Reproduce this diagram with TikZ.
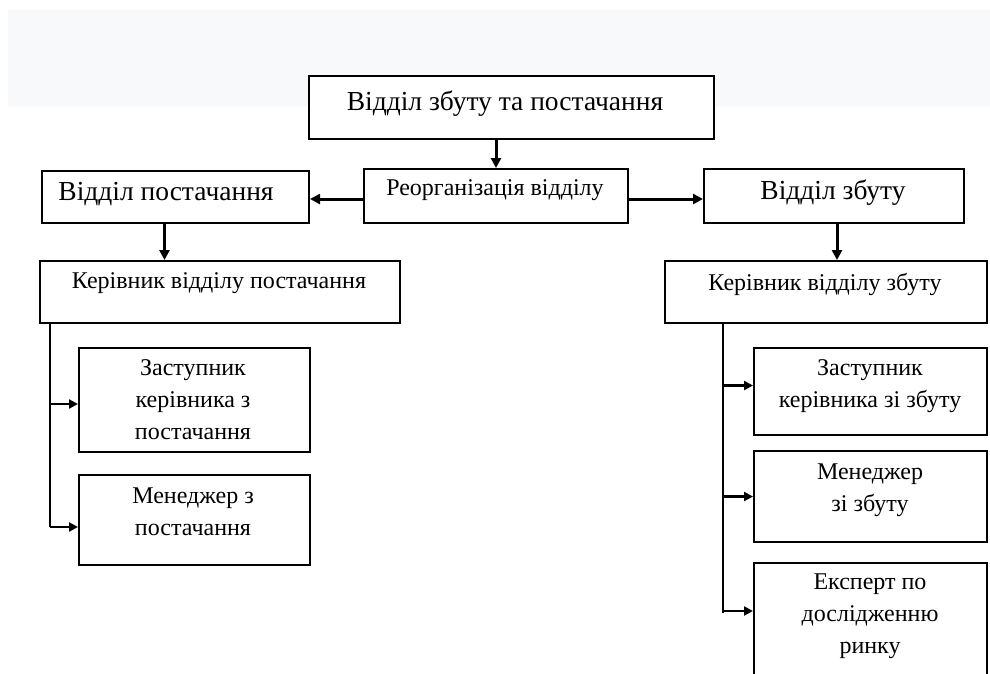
\documentclass[tikz,border=0pt]{standalone}
\usepackage{fontspec}
\setmainfont{Liberation Serif}
\usetikzlibrary{arrows.meta}
\definecolor{band}{HTML}{F8F9FA}
\tikzset{
  boxn/.style={draw=black, line width=2pt, fill=white, inner sep=0pt, anchor=north west},
  bigtxt/.style={font=\fontsize{27.5}{30}\selectfont, inner sep=0pt, align=center},
  smtxt/.style={font=\fontsize{24}{32}\selectfont, inner sep=0pt, align=center},
  arr/.style={line width=3pt, -{Triangle[length=10pt,width=10pt]}},
  sarr/.style={line width=2.4pt, -{Triangle[length=9pt,width=9pt]}},
  trunk/.style={line width=2.2pt}
}
\begin{document}
\begin{tikzpicture}[x=1pt,y=-1pt]
\useasboundingbox (0,0) rectangle (990,673);
\clip (0,0) rectangle (990,673);
\fill[band] (8,10) rectangle (990,107);
% boxes
\node[boxn, minimum width=405pt, minimum height=63pt] (top) at (308,75) {};
\node[boxn, minimum width=264pt, minimum height=54pt] (reorg) at (363,168) {};
\node[boxn, minimum width=267pt, minimum height=52pt] (vp) at (41,170) {};
\node[boxn, minimum width=260pt, minimum height=54pt] (vz) at (703,168) {};
\node[boxn, minimum width=360pt, minimum height=62pt] (kp) at (39,260) {};
\node[boxn, minimum width=322pt, minimum height=62pt] (kz) at (664,260) {};
\node[boxn, minimum width=231pt, minimum height=104pt] (zp) at (78,347) {};
\node[boxn, minimum width=231pt, minimum height=90pt] (mp) at (78,474) {};
\node[boxn, minimum width=233pt, minimum height=87pt] (zz) at (753,347) {};
\node[boxn, minimum width=233pt, minimum height=91pt] (mz) at (753,450) {};
\node[boxn, minimum width=233pt, minimum height=130pt] (ek) at (753,562) {};
% texts
\node[bigtxt] (ttop) at (505,104) {Відділ збуту та постачання};
\node[smtxt] (treorg) at (495,190) {Реорганізація відділу};
\node[bigtxt] (tvp) at (166,194) {Відділ постачання};
\node[bigtxt] (tvz) at (833,193) {Відділ збуту};
\node[smtxt] (tkp) at (219,283) {Керівник відділу постачання};
\node[smtxt] (tkz) at (825,284) {Керівник відділу збуту};
\node[smtxt] (tzp) at (193,400) {Заступник\\керівника з\\постачання};
\node[smtxt] (tmp) at (193,512) {Менеджер з\\постачання};
\node[smtxt] (tzz) at (870,386) {Заступник\\керівника зі збуту};
\node[smtxt] (tmz) at (870,490) {Менеджер\\зі збуту};
\node[smtxt] (tek) at (870,616) {Експерт по\\дослідженню\\ринку};
% connectors
\draw[arr] (reorg.north |- top.south) -- (reorg.north);
\draw[arr] ([yshift=-3pt]reorg.west) -- ([yshift=-3pt]reorg.west -| vp.east);
\draw[arr] ([yshift=-3pt]reorg.east) -- ([yshift=-3pt]reorg.east -| vz.west);
\draw[arr] ([xshift=-11pt]vp.south) -- ([xshift=-11pt]vp.south |- kp.north);
\draw[arr] ([xshift=3pt]vz.south) -- ([xshift=3pt]vz.south |- kp.north);
\coordinate (tl) at ([xshift=11pt]kp.south west);
\coordinate (tlend) at (tl |- mp.west);
\draw[trunk] (tl) -- ([yshift=-7pt]tlend);
\draw[sarr] ([yshift=-4pt]tl |- zp.west) -- ([yshift=-4pt]zp.west);
\draw[sarr] ([yshift=-7pt]tl |- mp.west) -- ([yshift=-7pt]mp.west);
\coordinate (tr) at ([xshift=59pt]kz.south west);
\draw[trunk] (tr) -- (tr |- 0,613);
\draw[sarr] ([yshift=6pt]tr |- zz.west) -- ([yshift=6pt]zz.west);
\draw[sarr] (tr |- mz.west) -- (mz.west);
\draw[sarr] (tr |- 0,611) -- (ek.west |- 0,611);
\end{tikzpicture}
\end{document}
